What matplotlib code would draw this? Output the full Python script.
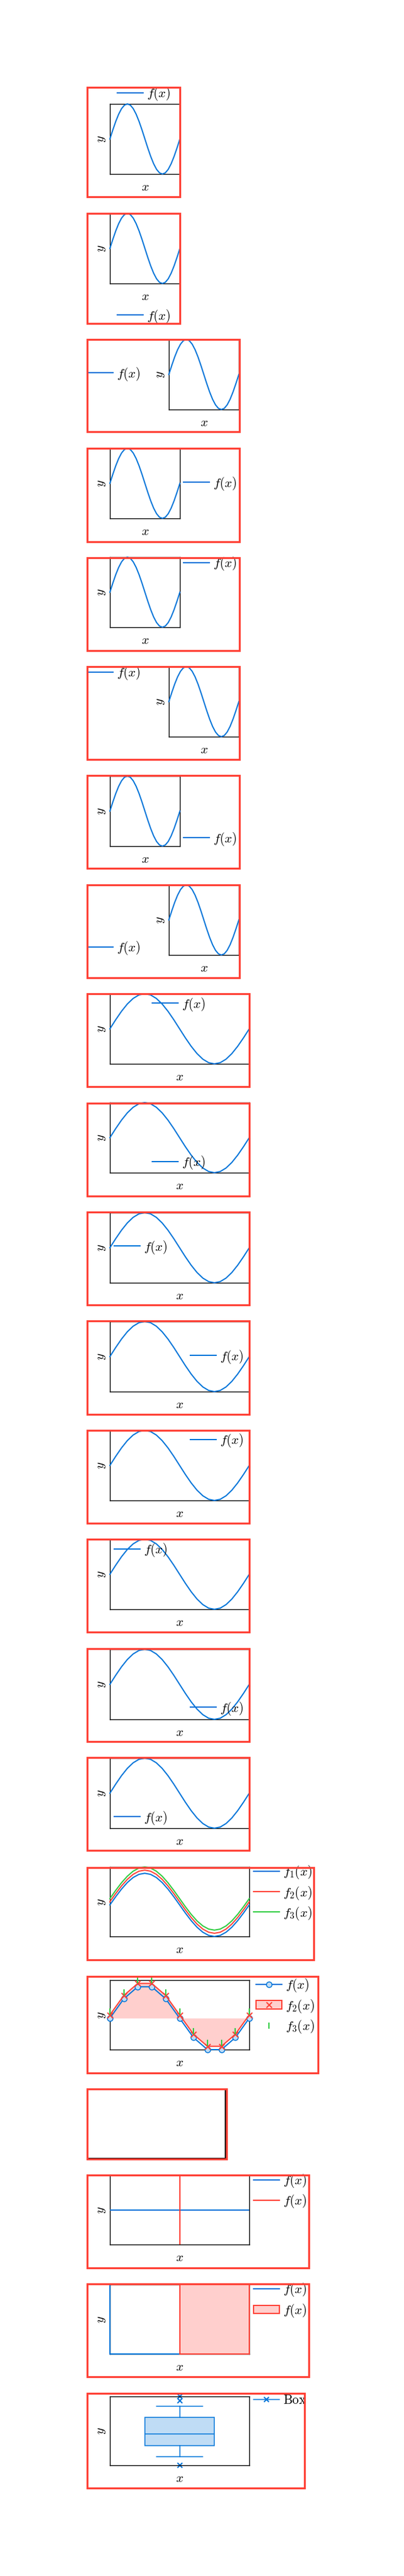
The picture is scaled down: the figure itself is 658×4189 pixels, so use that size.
import matplotlib
matplotlib.use('Agg')
import matplotlib.pyplot as plt
import matplotlib.transforms as mtransforms
from matplotlib.patches import Rectangle, Patch
from matplotlib.lines import Line2D
from matplotlib.legend_handler import HandlerTuple

plt.rcParams['mathtext.fontset'] = 'cm'

BLUE = '#0074D9'
RED = '#FF4136'
GREEN = '#2ECC40'
LBLUE = '#BFDCF5'
PINK = '#FFCFCD'

# sampled curve (x in degrees, one period)
x_deg = [0, 15, 30, 45, 60, 75, 90, 105, 120, 135, 150, 165, 180,
         195, 210, 225, 240, 255, 270, 285, 300, 315, 330, 345, 360]
f_sin = [0.0, 0.259, 0.5, 0.707, 0.866, 0.966, 1.0, 0.966, 0.866, 0.707, 0.5, 0.259, 0.0,
         -0.259, -0.5, -0.707, -0.866, -0.966, -1.0, -0.966, -0.866, -0.707, -0.5, -0.259, 0.0]
f2_sin = [0.1, 0.359, 0.6, 0.807, 0.966, 1.066, 1.1, 1.066, 0.966, 0.807, 0.6, 0.359, 0.1,
          -0.159, -0.4, -0.607, -0.766, -0.866, -0.9, -0.866, -0.766, -0.607, -0.4, -0.159, 0.1]
f3_sin = [0.2, 0.459, 0.7, 0.907, 1.066, 1.166, 1.2, 1.166, 1.066, 0.907, 0.7, 0.459, 0.2,
          -0.059, -0.3, -0.507, -0.666, -0.766, -0.8, -0.766, -0.666, -0.507, -0.3, -0.059, 0.2]

# coarse samples for the marker panel
t_pts = [0.0, 0.1, 0.2, 0.3, 0.4, 0.5, 0.6, 0.7, 0.8, 0.9, 1.0]
f_pts = [0.0, 0.588, 0.951, 0.951, 0.588, 0.0, -0.588, -0.951, -0.951, -0.588, 0.0]
f2_pts = [0.1, 0.688, 1.051, 1.051, 0.688, 0.1, -0.488, -0.851, -0.851, -0.488, 0.1]
f3_pts = [0.2, 0.788, 1.151, 1.151, 0.788, 0.2, -0.388, -0.751, -0.751, -0.388, 0.2]

# cross lines
hline_x = [-1, 1]
hline_y = [0, 0]
vline_x = [0, 0]
vline_y = [-1, 1]

# two rectangles
rect1_x = [0, 1, 1, 0, 0]
rect1_y = [0, 0, 1, 1, 0]
rect2_x = [1, 2, 2, 1, 1]
rect2_y = [0, 0, 1, 1, 0]

# box plot statistics
box_stats = [dict(med=4.53, q1=2.9, q3=6.95, whislo=1.27, whishi=8.58,
                  fliers=[10.0, 9.41, 0.0])]

W, H, DPI = 658, 4189, 72
fig = plt.figure(figsize=(W / DPI, H / DPI), dpi=DPI)
FS = 21


def px_axes(l, t, w, h):
    return fig.add_axes([l / W, 1 - (t + h) / H, w / W, h / H])


def red_box(x0, y0, x1, y1):
    fig.add_artist(Rectangle((x0 / W, 1 - y1 / H), (x1 - x0) / W, (y1 - y0) / H,
                             transform=fig.transFigure, fill=False, ec=RED,
                             lw=3.2, zorder=10))


def style(ax, labels=True, lw=1.4):
    ax.set_xticks([])
    ax.set_yticks([])
    for s in ax.spines.values():
        s.set_linewidth(lw)
    if labels:
        tx = mtransforms.offset_copy(ax.transAxes, fig=fig, x=0, y=-21, units='dots')
        ax.text(0.5, 0, '$x$', transform=tx, ha='center', va='center', fontsize=FS)
        ty = mtransforms.offset_copy(ax.transAxes, fig=fig, x=-14, y=0, units='dots')
        ax.text(0, 0.5, '$y$', transform=ty, ha='center', va='center',
                rotation=90, fontsize=FS)


def legend(ax, handles, labels, left, cy, **kw):
    leg = ax.legend(handles, labels, loc='center left',
                    bbox_to_anchor=(left / W, 1 - cy / H),
                    bbox_transform=fig.transFigure, frameon=False,
                    borderpad=0, borderaxespad=0, handlelength=2.0,
                    handletextpad=0.3, labelspacing=0.3, numpoints=1,
                    fontsize=FS, **kw)
    leg.set_zorder(5)
    return leg


# single curve panels: red box, axes box, legend anchor
single = [
    ((141.5, 141.5, 293, 320), (179, 169, 114, 114), (191, 153)),
    ((141.5, 347, 293, 525.5), (179, 347, 114, 114), (191, 514)),
    ((141.5, 552, 389.5, 702), (275, 552, 114, 114), (142, 608)),
    ((141.5, 729, 390, 881), (179, 729, 114, 114), (299, 786)),
    ((141.5, 906.5, 389.5, 1057.5), (179, 906, 114, 114), (299, 917)),
    ((141.5, 1083.5, 389.5, 1235), (275, 1084, 114, 114), (142, 1095)),
    ((141.5, 1261.5, 389.5, 1412), (179, 1262, 114, 114), (299, 1364)),
    ((141.5, 1438.5, 389.5, 1589.5), (275, 1439, 114, 114), (142, 1542)),
    ((141.5, 1616.5, 406, 1767), (179, 1616, 227, 114), (248, 1633)),
    ((141.5, 1793.5, 406, 1945), (179, 1793, 227, 114), (248, 1891)),
    ((141.5, 1971, 406, 2122), (179, 1972, 227, 114), (186, 2028)),
    ((141.5, 2148, 406, 2299.5), (179, 2149, 227, 114), (310, 2206)),
    ((141.5, 2326, 406, 2477), (179, 2326, 227, 114), (310, 2343)),
    ((141.5, 2503, 406, 2654), (179, 2503, 227, 114), (186, 2521)),
    ((141.5, 2681, 406, 2832), (179, 2682, 227, 114), (310, 2778)),
    ((141.5, 2858, 406, 3009), (179, 2859, 227, 114), (186, 2956)),
]

for rb, ab, lg in single:
    ax = px_axes(*ab)
    style(ax)
    ln, = ax.plot(x_deg, f_sin, color=BLUE, lw=2, clip_on=False, zorder=3)
    ax.set_xlim(x_deg[0], x_deg[-1])
    ax.set_ylim(-1, 1)
    legend(ax, [ln], ['$f(x)$'], *lg)
    red_box(*rb)

# three curves
ax = px_axes(179, 3036, 227, 113)
style(ax)
l1, = ax.plot(x_deg, f_sin, color=BLUE, lw=2, clip_on=False, zorder=3)
l2, = ax.plot(x_deg, f2_sin, color=RED, lw=2, clip_on=False, zorder=3)
l3, = ax.plot(x_deg, f3_sin, color=GREEN, lw=2, clip_on=False, zorder=3)
ax.set_xlim(x_deg[0], x_deg[-1])
ax.set_ylim(-1, 1.2)
legend(ax, [l1, l2, l3], ['$f_1(x)$', '$f_2(x)$', '$f_3(x)$'], 413, 3078)
red_box(141.5, 3036.5, 511, 3187)

# markers and fill
ax = px_axes(179, 3220, 227, 113)
style(ax)
ax.fill_between(t_pts, f2_pts, 0, color=PINK, lw=0, zorder=1)
a, = ax.plot(t_pts, f_pts, color=BLUE, lw=2, marker='o', ms=9, mfc=LBLUE,
             mec=BLUE, mew=1.5, clip_on=False, zorder=3)
b, = ax.plot(t_pts, f2_pts, color=RED, lw=2, marker='x', ms=9, mew=2,
             clip_on=False, zorder=4)
c, = ax.plot(t_pts, f3_pts, ls='none', color=GREEN, marker='|', ms=10, mew=2,
             clip_on=False, zorder=5)
ax.set_xlim(0, 1)
ax.set_ylim(-0.951, 1.151)
h2 = (Patch(fc=PINK, ec=RED, lw=2),
      Line2D([], [], ls='none', color=RED, marker='x', ms=9, mew=2))
legend(ax, [a, h2, c], ['$f(x)$', '$f_2(x)$', '$f_3(x)$'], 417, 3262,
       handler_map={tuple: HandlerTuple(ndivide=1, pad=0)}, handleheight=0.6)
red_box(141.5, 3213.5, 518, 3371)

# empty axis
ax = px_axes(142, 3398, 225, 112)
style(ax, labels=False, lw=2)
red_box(141.5, 3396.5, 368.5, 3510.5)

# cross lines
ax = px_axes(179, 3537, 227, 113)
style(ax)
h, = ax.plot(hline_x, hline_y, color=BLUE, lw=2, zorder=3)
v, = ax.plot(vline_x, vline_y, color=RED, lw=2, zorder=3)
ax.set_xlim(-1, 1)
ax.set_ylim(-1, 1)
legend(ax, [h, v], ['$f(x)$', '$f(x)$'], 413, 3563)
red_box(141.5, 3536.5, 503, 3688)

# two rectangles
ax = px_axes(179, 3715, 227, 113)
style(ax)
r1, = ax.plot(rect1_x, rect1_y, color=BLUE, lw=2, clip_on=False, zorder=3)
ax.fill(rect2_x, rect2_y, fc=PINK, ec=RED, lw=2, clip_on=False, zorder=4)
ax.set_xlim(0, 2)
ax.set_ylim(0, 1)
legend(ax, [r1, Patch(fc=PINK, ec=RED, lw=2)], ['$f(x)$', '$f(x)$'], 413, 3740.5,
       handleheight=0.6)
red_box(141.5, 3714, 503, 3865)

# box plot
ax = px_axes(179, 3897, 227, 112)
style(ax)
bp = ax.bxp(box_stats, positions=[0], widths=0.5, capwidths=[0.33],
            patch_artist=True,
            boxprops=dict(facecolor=LBLUE, edgecolor=BLUE, lw=1.5),
            medianprops=dict(color=BLUE, lw=1.5),
            whiskerprops=dict(color=BLUE, lw=1.5),
            capprops=dict(color=BLUE, lw=1.5),
            flierprops=dict(marker='x', mec=BLUE, ms=8, mew=2))
for art in bp['fliers']:
    art.set_clip_on(False)
ax.set_xticks([])
ax.set_yticks([])
ax.set_xlim(-0.5, 0.5)
ax.set_ylim(0, 10)
bh = Line2D([], [], color=BLUE, lw=1.5, marker='x', ms=8, mew=2)
legend(ax, [bh], [r'$\mathrm{Box}$'], 413, 3903)
red_box(141.5, 3892, 495.5, 4046)

fig.savefig('out.png', dpi=DPI)
